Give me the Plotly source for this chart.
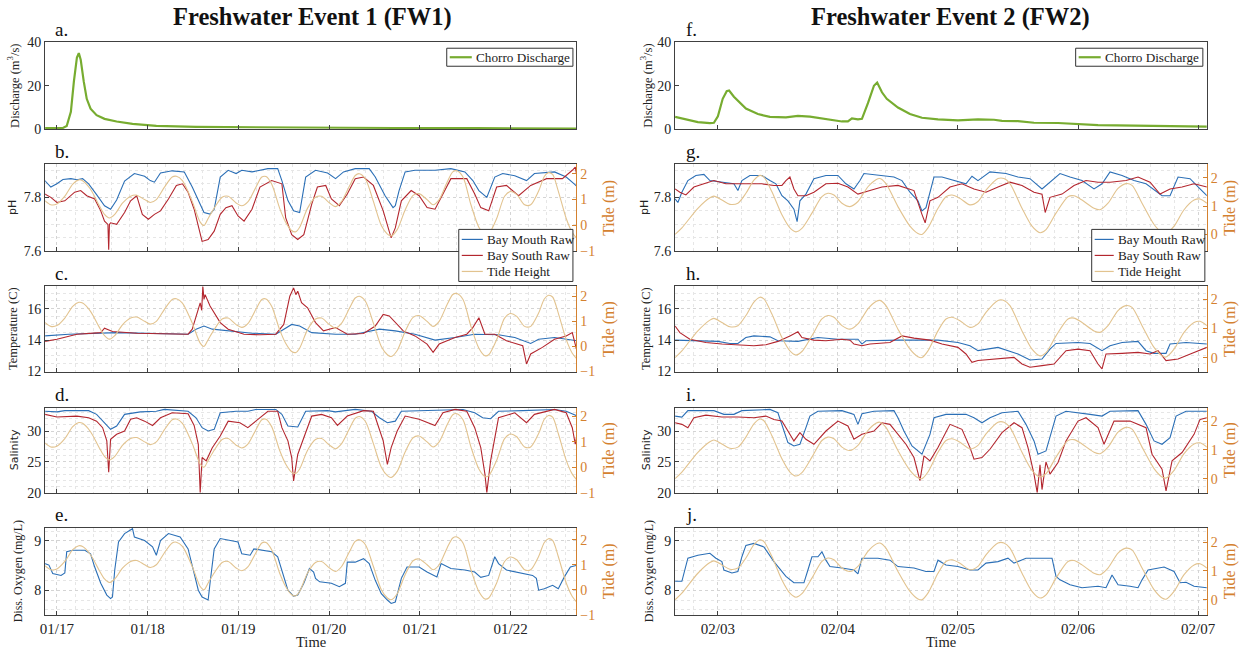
import plotly.graph_objects as go
import pandas as pd

# ---------------- DATA (time in hours from 00:00 of the first labelled day) ----------------
FW1_BASE = "2019-01-17"
FW2_BASE = "2019-02-03"

fw1_discharge = [(-3.2, 0.5), (1.6, 0.6), (2.6, 1.5), (3.7, 8), (4.5, 22), (5.3, 33), (5.8, 35),
                 (6.3, 32), (7.1, 22), (7.9, 14), (8.9, 9.5), (10.5, 6.5), (12.6, 4.8), (15.8, 3.6),
                 (20.0, 2.5), (26.3, 1.6), (36.8, 1.1), (57.9, 0.8), (89.5, 0.6), (110.5, 0.5), (137.7, 0.35)]

fw2_discharge = [(-8.56, 5.7), (-6.4, 4.5), (-4.0, 3.3), (-1.6, 2.8), (-0.8, 3.0), (0, 6), (0.96, 14),
                 (1.76, 17.5), (2.24, 17.8), (3.2, 15), (4.0, 13), (5.6, 9.5), (8.0, 7), (10.4, 5.7),
                 (13.6, 5.5), (16.0, 6.2), (18.4, 5.8), (21.6, 4.6), (24.8, 3.6), (26.0, 3.6), (26.8, 5.0),
                 (28.0, 4.6), (28.8, 4.8), (30.0, 12), (31.2, 20), (31.84, 21.5), (32.8, 17), (33.76, 14),
                 (36.0, 10), (38.4, 7.0), (40.8, 5.3), (44.0, 4.6), (48.0, 4.1), (52.0, 4.6), (55.2, 4.4),
                 (56.8, 3.9), (60.0, 3.8), (63.2, 3.0), (68.0, 2.9), (76.0, 1.9), (84.0, 1.6), (92.0, 1.4),
                 (97.76, 1.2)]

fw1_tide = [(-3.2, 0.96), (-1.6, 0.8), (0, 0.83), (2.1, 1.13), (4.2, 1.6), (5.8, 1.76), (6.8, 1.73),
            (8.9, 1.4), (11.1, 0.8), (12.6, 0.43), (13.9, 0.29), (15.3, 0.43), (17.4, 0.87), (19.5, 1.13),
            (21.1, 1.17), (23.2, 1.0), (24.7, 0.89), (26.3, 1.0), (28.4, 1.47), (30.5, 1.87), (31.6, 1.9),
            (33.2, 1.73), (35.8, 0.93), (37.9, 0.13), (38.9, 0.0), (40.0, 0.27), (41.6, 0.67), (43.7, 1.09),
            (45.3, 1.13), (47.4, 0.87), (48.9, 0.76), (50.5, 0.91), (52.6, 1.47), (54.2, 1.87), (55.3, 1.89),
            (56.8, 1.6), (58.9, 0.67), (60.5, 0.13), (62.1, -0.2), (63.2, -0.24), (64.2, -0.07), (66.3, 0.67),
            (68.4, 1.09), (70.0, 1.13), (72.1, 0.87), (73.7, 0.73), (75.3, 0.93), (77.4, 1.53), (78.9, 1.93),
            (80.0, 2.0), (81.6, 1.8), (83.7, 0.93), (85.8, 0.0), (87.4, -0.33), (88.4, -0.4), (90.0, -0.16),
            (92.1, 0.6), (94.2, 1.16), (95.8, 1.23), (97.9, 1.0), (99.5, 0.8), (101.1, 1.0), (103.2, 1.67),
            (104.7, 2.07), (105.8, 2.11), (107.4, 1.87), (109.5, 0.8), (111.6, -0.07), (113.2, -0.37),
            (114.2, -0.33), (116.3, 0.27), (118.4, 1.13), (120.0, 1.31), (121.6, 1.2), (123.7, 0.8),
            (125.3, 0.8), (127.4, 1.33), (128.9, 1.89), (130.0, 2.04), (131.1, 1.97), (132.6, 1.33),
            (134.7, 0.27), (136.3, -0.27), (137.7, -0.53)]

fw2_tide = [(-8.56, 0.0), (-7.2, 0.23), (-4.0, 0.92), (-1.6, 1.29), (-0.8, 1.35), (0.8, 1.21), (2.4, 1.06),
            (4.0, 1.1), (5.6, 1.45), (7.2, 1.91), (8.4, 2.08), (9.2, 2.02), (10.8, 1.5), (12.8, 0.69),
            (14.4, 0.23), (15.6, 0.09), (16.8, 0.21), (18.8, 0.75), (20.8, 1.33), (22.0, 1.45), (23.2, 1.39),
            (24.8, 1.1), (26.4, 0.98), (28.0, 1.16), (30.0, 1.68), (31.6, 1.93), (32.4, 1.97), (33.6, 1.79),
            (36.0, 0.98), (38.4, 0.29), (40.0, 0.03), (40.8, 0.0), (42.0, 0.23), (44.0, 0.92), (45.6, 1.33),
            (46.8, 1.39), (48.4, 1.27), (50.4, 1.04), (52.0, 1.16), (53.6, 1.56), (56.0, 1.97), (57.2, 1.97),
            (58.4, 1.79), (60.8, 0.92), (62.8, 0.29), (64.4, 0.06), (65.6, 0.17), (67.6, 0.75), (70.0, 1.33),
            (71.2, 1.36), (72.8, 1.21), (75.2, 0.92), (76.4, 0.87), (78.0, 1.1), (80.0, 1.62), (81.6, 1.79),
            (82.8, 1.73), (84.8, 1.1), (87.2, 0.35), (88.8, 0.06), (89.6, 0.02), (91.2, 0.29), (93.2, 0.87),
            (95.2, 1.21), (96.4, 1.25), (97.76, 1.1)]

fw1_ph_mouth = [(-3.2, 7.862), (-1.6, 7.838), (0, 7.85), (1.6, 7.866), (3.7, 7.869), (5.3, 7.865), (6.8, 7.869),
                (8.4, 7.85), (10.5, 7.81), (12.6, 7.769), (14.2, 7.756), (15.8, 7.79), (17.9, 7.86), (20.5, 7.888),
                (23.2, 7.878), (24.7, 7.862), (25.8, 7.856), (27.4, 7.89), (30.5, 7.898), (33.7, 7.894),
                (35.8, 7.838), (37.4, 7.79), (38.9, 7.744), (40.5, 7.738), (41.6, 7.756), (43.2, 7.875),
                (45.3, 7.9), (47.4, 7.888), (48.9, 7.9), (51.6, 7.894), (55.8, 7.906), (58.4, 7.906),
                (59.5, 7.862), (61.1, 7.788), (62.6, 7.75), (64.2, 7.744), (65.8, 7.875), (68.4, 7.9),
                (71.6, 7.89), (73.7, 7.869), (75.8, 7.894), (78.9, 7.906), (82.6, 7.906), (84.2, 7.875),
                (86.8, 7.806), (88.9, 7.762), (89.5, 7.769), (90.5, 7.825), (92.1, 7.894), (94.7, 7.9),
                (100.0, 7.9), (104.2, 7.906), (107.9, 7.894), (110.0, 7.862), (111.6, 7.825), (113.7, 7.8),
                (115.8, 7.875), (117.9, 7.888), (121.1, 7.88), (124.2, 7.862), (126.3, 7.888), (131.6, 7.894),
                (134.7, 7.875), (136.8, 7.85), (137.7, 7.838)]

fw1_ph_south = [(-3.2, 7.812), (-1.6, 7.8), (0, 7.781), (2.1, 7.787), (4.7, 7.819), (6.3, 7.825), (7.9, 7.806),
                (10.0, 7.794), (11.6, 7.75), (12.6, 7.712), (13.5, 7.70), (13.7, 7.606), (13.9, 7.70),
                (14.2, 7.706), (15.8, 7.7), (17.9, 7.744), (19.5, 7.787), (21.1, 7.806), (22.6, 7.737),
                (24.2, 7.719), (25.8, 7.737), (27.4, 7.75), (29.5, 7.794), (31.6, 7.844), (33.2, 7.85),
                (34.7, 7.819), (36.3, 7.756), (37.4, 7.694), (38.4, 7.637), (40.0, 7.644), (41.6, 7.675),
                (43.2, 7.737), (44.7, 7.762), (46.3, 7.769), (47.9, 7.731), (49.5, 7.712), (51.6, 7.756),
                (53.7, 7.838), (56.8, 7.862), (59.5, 7.85), (60.5, 7.725), (62.1, 7.662), (63.7, 7.644),
                (65.3, 7.662), (67.4, 7.775), (68.9, 7.838), (71.1, 7.844), (72.6, 7.794), (74.7, 7.769),
                (76.8, 7.812), (78.9, 7.869), (81.1, 7.875), (83.7, 7.844), (86.3, 7.75), (88.4, 7.65),
                (89.5, 7.687), (91.1, 7.787), (93.7, 7.825), (95.8, 7.806), (97.9, 7.762), (100.0, 7.756),
                (102.1, 7.812), (104.2, 7.869), (108.4, 7.869), (110.5, 7.812), (112.1, 7.762), (114.2, 7.75),
                (116.3, 7.838), (118.9, 7.844), (122.1, 7.806), (125.3, 7.844), (129.5, 7.869), (133.7, 7.869),
                (136.3, 7.9), (137.1, 7.912), (137.7, 7.862)]

fw1_temp_mouth = [(-3.2, 14.27), (3.2, 14.38), (15.8, 14.48), (34.7, 14.38), (36.8, 14.7), (38.9, 14.9),
                  (41.1, 14.7), (45.3, 14.59), (51.6, 14.44), (57.9, 14.38), (62.1, 15.0), (64.2, 14.9),
                  (67.4, 14.48), (73.7, 14.38), (78.9, 14.38), (85.3, 14.7), (89.5, 14.59), (94.7, 14.38),
                  (100.0, 14.0), (105.3, 14.17), (110.5, 14.38), (116.8, 14.34), (121.1, 14.17),
                  (125.3, 13.79), (127.4, 14.06), (131.6, 14.17), (137.7, 13.96)]

fw1_temp_south = [(-3.2, 13.92), (0, 14.06), (5.3, 14.38), (11.6, 14.48), (12.6, 14.76), (14.7, 14.55),
                  (21.1, 14.44), (28.4, 14.42), (34.7, 14.38), (35.8, 14.7), (36.8, 15.54), (37.9, 16.38),
                  (38.3, 15.9), (38.6, 17.43), (38.9, 16.6), (39.2, 16.9), (40.5, 16.17), (43.2, 15.12),
                  (45.3, 14.7), (49.5, 14.38), (53.7, 14.34), (57.9, 14.38), (60.0, 15.0), (61.6, 16.8),
                  (62.6, 17.33), (63.2, 16.9), (63.7, 17.12), (64.7, 16.38), (66.3, 16.06), (68.4, 15.12),
                  (70.5, 14.59), (73.7, 14.8), (76.8, 14.38), (81.1, 14.42), (84.2, 14.9), (86.3, 15.64),
                  (87.9, 15.54), (91.6, 14.59), (94.7, 14.27), (97.9, 13.75), (99.5, 13.22), (101.1, 13.75),
                  (105.3, 14.17), (108.4, 14.38), (110.0, 14.8), (111.6, 15.43), (113.2, 14.38), (115.8, 14.38),
                  (118.9, 13.96), (123.2, 13.64), (124.2, 12.48), (125.3, 13.12), (128.4, 13.54), (131.6, 14.06),
                  (134.7, 14.27), (136.3, 14.48), (137.4, 13.43), (137.7, 13.75)]

fw1_sal_mouth = [(-3.2, 33.2), (0, 33.1), (2.1, 33.3), (8.4, 33.3), (10.5, 32.7), (12.6, 31.34), (14.2, 30.27),
                 (15.8, 30.8), (17.9, 32.7), (22.1, 33.1), (26.3, 33.2), (28.4, 33.5), (34.7, 33.2),
                 (36.8, 32.15), (38.4, 30.54), (40.0, 30.0), (41.6, 30.27), (43.2, 32.96), (47.4, 33.2),
                 (50.5, 33.2), (52.6, 33.5), (57.9, 33.5), (59.5, 32.7), (61.1, 30.8), (63.7, 30.65),
                 (65.8, 33.2), (71.6, 33.3), (73.7, 33.1), (78.9, 33.5), (83.2, 33.2), (85.3, 32.15),
                 (87.4, 31.34), (89.5, 31.6), (91.1, 33.2), (100.0, 33.4), (107.4, 33.5), (110.5, 32.96),
                 (112.6, 32.15), (114.7, 31.99), (116.8, 33.2), (123.2, 33.3), (131.6, 33.5), (134.7, 33.2),
                 (137.7, 32.4)]

fw1_sal_south = [(-3.2, 32.7), (0, 32.26), (5.3, 32.42), (8.4, 32.15), (10.5, 31.6), (12.1, 30.54),
                 (13.2, 28.4), (13.7, 23.3), (14.2, 28.66), (15.8, 29.46), (17.9, 30.0), (19.5, 31.9),
                 (21.1, 32.15), (23.2, 31.6), (25.3, 30.9), (27.4, 32.15), (30.5, 32.96), (34.7, 32.8),
                 (36.3, 30.9), (37.4, 27.85), (37.9, 20.0), (38.4, 25.7), (39.5, 25.16), (41.1, 27.3),
                 (43.2, 29.2), (45.3, 31.6), (48.4, 31.34), (50.5, 30.54), (52.6, 31.6), (55.8, 33.2),
                 (58.4, 33.2), (59.5, 30.54), (61.1, 28.4), (62.1, 25.7), (62.6, 21.9), (63.7, 26.2),
                 (65.3, 28.9), (67.4, 32.42), (70.0, 32.7), (72.6, 32.15), (74.2, 30.9), (76.8, 32.42),
                 (81.1, 33.3), (83.7, 33.2), (84.7, 31.34), (86.3, 28.4), (87.4, 24.6), (88.4, 27.3),
                 (90.0, 30.0), (92.1, 32.42), (95.8, 31.9), (97.9, 31.34), (100.0, 30.9), (102.1, 32.96),
                 (105.3, 33.5), (108.4, 33.2), (110.5, 30.54), (112.1, 27.3), (113.2, 23.0), (113.7, 20.0),
                 (114.7, 25.16), (116.8, 32.15), (121.1, 32.96), (124.2, 31.34), (126.3, 32.7), (131.6, 33.5),
                 (134.7, 32.96), (136.3, 30.54), (137.1, 27.85), (137.7, 30.0)]

fw1_do_mouth = [(-3.2, 8.54), (-2.1, 8.51), (-1.1, 8.34), (1.1, 8.3), (2.1, 8.35), (2.6, 8.78), (4.2, 8.81),
                (7.4, 8.81), (8.9, 8.74), (10.0, 8.47), (11.6, 8.14), (13.2, 7.9), (14.2, 7.83), (14.7, 7.86),
                (15.3, 8.41), (16.3, 8.98), (17.9, 9.15), (19.5, 9.22), (20.0, 9.25), (20.5, 9.08), (23.2, 9.01),
                (25.3, 8.88), (26.3, 8.71), (27.4, 9.01), (29.5, 9.15), (32.6, 9.08), (34.7, 8.84), (36.3, 8.34),
                (37.4, 8.0), (38.4, 7.86), (40.0, 7.8), (40.5, 8.14), (41.6, 8.84), (43.2, 9.05), (46.3, 9.01),
                (47.9, 8.98), (48.9, 8.74), (51.1, 8.71), (52.1, 8.84), (54.2, 8.81), (56.8, 8.78), (58.4, 8.68),
                (60.0, 8.3), (61.1, 8.0), (62.6, 7.88), (63.7, 7.9), (65.3, 8.14), (66.8, 8.44), (67.9, 8.37),
                (68.4, 8.24), (69.5, 8.17), (72.6, 8.14), (74.7, 8.07), (76.3, 8.14), (76.8, 8.57), (78.9, 8.57),
                (81.1, 8.64), (82.6, 8.54), (84.2, 8.2), (85.8, 7.93), (87.4, 7.8), (88.4, 7.73), (89.5, 7.76),
                (91.1, 8.24), (92.6, 8.47), (95.8, 8.47), (97.9, 8.37), (100.5, 8.27), (101.6, 8.54),
                (104.2, 8.44), (107.9, 8.41), (110.5, 8.37), (112.1, 8.26), (114.2, 8.3), (115.8, 8.68),
                (116.8, 8.54), (118.9, 8.41), (123.2, 8.34), (125.8, 8.3), (126.8, 8.24), (127.4, 8.0),
                (128.9, 8.03), (131.1, 8.1), (132.6, 8.03), (134.2, 8.27), (135.8, 8.47), (137.7, 8.51)]

fw2_ph_mouth = [(-8.56, 7.794), (-8.0, 7.781), (-7.2, 7.819), (-6.0, 7.862), (-4.4, 7.881), (-2.8, 7.885),
                (-1.6, 7.862), (0.8, 7.856), (3.2, 7.85), (4.0, 7.825), (4.8, 7.862), (6.4, 7.881), (8.8, 7.881),
                (10.4, 7.862), (11.6, 7.85), (12.8, 7.806), (14.0, 7.787), (15.2, 7.756), (15.84, 7.71),
                (16.4, 7.787), (17.6, 7.812), (19.2, 7.869), (21.6, 7.881), (24.0, 7.881), (25.6, 7.85),
                (27.2, 7.831), (28.4, 7.862), (29.2, 7.888), (32.0, 7.881), (35.2, 7.875), (36.8, 7.862),
                (38.4, 7.819), (40.0, 7.787), (40.8, 7.75), (41.6, 7.762), (43.2, 7.875), (44.8, 7.875),
                (47.2, 7.862), (49.6, 7.85), (50.8, 7.878), (52.0, 7.862), (54.4, 7.894), (57.6, 7.888),
                (60.0, 7.875), (62.4, 7.869), (64.8, 7.831), (66.4, 7.856), (68.4, 7.888), (70.4, 7.875),
                (72.8, 7.862), (75.2, 7.831), (76.8, 7.85), (78.4, 7.894), (80.8, 7.881), (83.2, 7.862),
                (85.6, 7.85), (88.8, 7.806), (90.4, 7.806), (92.0, 7.875), (94.4, 7.869), (96.4, 7.831),
                (97.76, 7.806)]

fw2_ph_south = [(-8.56, 7.831), (-7.6, 7.819), (-6.4, 7.809), (-4.8, 7.838), (-2.8, 7.85), (-0.8, 7.862),
                (1.6, 7.85), (4.0, 7.85), (6.4, 7.85), (8.8, 7.85), (11.2, 7.844), (12.8, 7.844), (13.6, 7.862),
                (14.4, 7.875), (15.2, 7.831), (16.0, 7.806), (17.6, 7.806), (19.2, 7.819), (21.6, 7.85),
                (24.0, 7.852), (26.0, 7.838), (28.0, 7.812), (30.4, 7.825), (32.8, 7.838), (36.0, 7.844),
                (39.2, 7.825), (40.8, 7.737), (41.44, 7.706), (42.4, 7.787), (44.0, 7.8), (46.4, 7.838),
                (48.8, 7.85), (51.2, 7.831), (53.6, 7.819), (56.0, 7.838), (58.4, 7.856), (60.8, 7.844),
                (63.2, 7.819), (64.8, 7.812), (65.44, 7.744), (66.4, 7.8), (68.8, 7.812), (71.2, 7.844),
                (73.6, 7.862), (76.0, 7.856), (78.4, 7.856), (81.6, 7.862), (84.0, 7.875), (86.4, 7.856),
                (88.4, 7.812), (90.4, 7.831), (92.8, 7.838), (95.2, 7.85), (97.76, 7.838)]

fw2_temp_mouth = [(-8.56, 14.0), (-4.0, 13.96), (0, 13.92), (2.4, 13.79), (4.0, 13.79), (5.6, 14.17),
                  (7.2, 14.27), (10.4, 14.21), (12.0, 13.96), (16.0, 13.92), (20.0, 14.17), (24.0, 14.06),
                  (28.0, 14.06), (28.8, 13.75), (29.6, 13.96), (36.0, 14.0), (40.8, 14.0), (44.0, 14.0),
                  (48.0, 13.85), (50.4, 13.64), (52.0, 13.33), (53.6, 13.43), (56.0, 13.54), (60.0, 13.12),
                  (62.4, 12.74), (64.8, 12.8), (66.4, 13.43), (67.6, 13.79), (72.0, 13.85), (74.4, 13.79),
                  (76.8, 13.33), (78.4, 13.64), (80.8, 13.85), (84.0, 13.92), (85.6, 13.33), (87.2, 13.16),
                  (89.6, 13.16), (90.4, 13.75), (93.6, 13.85), (97.76, 13.75)]

fw2_temp_south = [(-8.56, 14.9), (-7.6, 14.48), (-5.6, 14.06), (-2.4, 13.85), (0.8, 13.75), (4.0, 13.71),
                  (7.2, 13.64), (9.6, 13.71), (12.0, 13.92), (14.4, 14.27), (16.0, 14.53), (16.8, 14.17),
                  (19.2, 14.0), (21.6, 13.96), (24.8, 14.06), (26.4, 14.0), (27.2, 13.75), (28.8, 13.64),
                  (30.4, 13.75), (34.4, 13.85), (36.8, 14.27), (39.2, 14.13), (42.4, 14.0), (44.8, 13.75),
                  (48.0, 13.54), (49.6, 13.12), (50.8, 12.59), (52.0, 12.7), (55.2, 12.8), (59.2, 12.9),
                  (60.8, 12.48), (62.4, 12.27), (64.8, 12.38), (67.2, 12.48), (69.6, 13.33), (72.0, 13.43),
                  (74.4, 13.33), (76.0, 12.48), (76.8, 12.17), (77.6, 13.12), (80.8, 13.16), (84.0, 13.22),
                  (86.4, 13.12), (88.0, 13.33), (89.6, 12.7), (92.0, 12.8), (95.2, 13.22), (97.76, 13.54)]

fw2_sal_mouth = [(-8.56, 32.42), (-7.2, 32.26), (-6.0, 33.3), (-0.8, 33.3), (1.2, 32.7), (3.2, 32.7),
                 (4.8, 33.3), (10.4, 33.5), (12.0, 32.96), (12.8, 31.08), (14.0, 28.12), (15.2, 27.58),
                 (16.4, 27.85), (17.6, 30.54), (18.4, 32.42), (20.0, 33.2), (24.8, 33.3), (27.2, 32.7),
                 (28.0, 31.08), (28.8, 32.8), (31.2, 33.2), (35.2, 33.3), (36.0, 32.15), (37.2, 30.0),
                 (38.8, 27.58), (40.8, 26.24), (42.4, 29.46), (43.2, 32.15), (45.6, 32.7), (49.6, 32.7),
                 (51.2, 32.15), (52.8, 31.34), (54.4, 32.15), (56.8, 32.96), (60.0, 33.2), (61.6, 31.08),
                 (63.2, 28.39), (64.0, 26.24), (65.6, 26.77), (67.6, 32.42), (69.6, 33.2), (74.4, 32.7),
                 (76.8, 32.42), (78.4, 33.2), (84.0, 33.3), (85.6, 31.08), (87.2, 28.39), (88.8, 27.85),
                 (90.4, 28.92), (91.6, 32.42), (93.6, 33.2), (97.76, 33.2)]

fw2_sal_south = [(-8.56, 31.34), (-7.2, 31.08), (-6.0, 30.54), (-4.8, 32.15), (-2.4, 32.58), (0.8, 32.26),
                 (4.0, 32.26), (7.2, 32.15), (9.6, 32.42), (11.2, 31.88), (12.8, 31.61), (14.4, 29.46),
                 (15.2, 28.39), (16.4, 29.73), (17.6, 28.66), (19.2, 27.85), (21.6, 30.0), (24.0, 31.61),
                 (26.0, 30.81), (27.2, 28.66), (28.8, 29.46), (31.2, 30.0), (32.8, 31.34), (34.4, 31.08),
                 (36.0, 29.46), (37.6, 27.85), (39.2, 25.7), (40.4, 21.94), (41.2, 25.97), (42.4, 25.16),
                 (44.0, 27.31), (46.4, 31.08), (48.8, 30.27), (50.4, 27.31), (51.2, 25.43), (52.8, 25.7),
                 (54.4, 27.04), (56.8, 29.73), (59.2, 31.34), (60.8, 30.54), (62.0, 27.31), (63.2, 23.0),
                 (63.84, 20.0), (64.4, 24.5), (64.8, 20.5), (65.6, 25.0), (66.4, 23.0), (68.0, 24.89),
                 (69.6, 28.39), (72.0, 31.61), (73.6, 32.15), (76.0, 30.54), (77.2, 27.85), (79.2, 31.61),
                 (82.4, 31.61), (85.6, 30.54), (86.8, 26.24), (88.8, 23.82), (89.6, 20.3), (90.8, 25.16),
                 (92.8, 26.51), (95.2, 29.46), (96.4, 31.88), (97.76, 32.15)]

fw2_do_mouth = [(-8.56, 8.18), (-7.2, 8.18), (-6.0, 8.65), (-4.0, 8.71), (-1.6, 8.75), (-0.4, 8.65), (0.8, 8.58),
                (1.2, 8.41), (2.8, 8.35), (4.0, 8.38), (4.8, 8.68), (5.6, 8.91), (7.2, 8.95), (9.2, 8.88),
                (11.2, 8.58), (13.6, 8.28), (15.2, 8.15), (17.2, 8.15), (18.0, 8.41), (18.8, 8.68), (20.0, 8.68),
                (20.8, 8.78), (21.6, 8.61), (22.4, 8.48), (24.8, 8.45), (27.2, 8.41), (28.0, 8.33), (28.8, 8.65),
                (32.0, 8.65), (34.4, 8.61), (36.0, 8.48), (39.2, 8.45), (41.6, 8.38), (43.2, 8.38), (44.0, 8.61),
                (45.6, 8.51), (48.0, 8.48), (50.4, 8.41), (52.0, 8.41), (53.6, 8.55), (56.0, 8.58), (58.0, 8.65),
                (59.2, 8.55), (61.6, 8.65), (64.8, 8.65), (66.8, 8.65), (67.6, 8.28), (68.4, 8.21), (70.4, 8.11),
                (72.8, 8.05), (76.0, 8.08), (77.6, 8.05), (78.8, 8.31), (80.0, 8.11), (82.4, 8.08), (84.0, 8.05),
                (84.8, 8.21), (86.0, 8.41), (89.2, 8.47), (91.2, 8.38), (92.4, 8.15), (93.6, 8.16), (95.2, 8.08),
                (97.76, 8.05)]

titles = ["Freshwater Event 1 (FW1)", "Freshwater Event 2 (FW2)"]
panel_letters = [["a.", "b.", "c.", "d.", "e."], ["f.", "g.", "h.", "i.", "j."]]
ylabels = ["Discharge (m<sup>3</sup>/s)", "pH", "Temperature (C)", "Salinity", "Diss. Oxygen (mg/L)"]
series_names = ["Chorro Discharge", "Bay Mouth Raw", "Bay South Raw", "Tide Height"]

# ---------------- STYLE ----------------
W, H = 1243, 655
# The page keeps the browser's default 8px body margin and the capture is scaled
# back to 1243x655, so layout positions (given in target pixels) are mapped here.
OFF = 8
KX, KY = W / (W + 2 * OFF), H / (H + 2 * OFF)
SERIF = "Liberation Serif, Times New Roman, serif"
SANS = "DejaVu Sans, Arial, sans-serif"
C_GREEN = "#77AC30"
C_BLUE = "#2B6FB6"
C_RED = "#B3262E"
C_TIDE = "#E2C38F"
C_ORANGE = "#D4812F"
GRID = "#D4D4D4"
GRID_MINOR = "#E6E6E6"
AXC = "#404040"


def px_x(p):
    return (p / KX - OFF) / W


def px_y(p):
    return 1 - (p / KY - OFF) / H


xdoms = [[px_x(48), px_x(578.5)], [px_x(677), px_x(1208)]]
rows_px = [(43, 130), (165, 252), (287, 372), (408, 493), (528, 615)]
bases = [pd.Timestamp(FW1_BASE), pd.Timestamp(FW2_BASE)]
xranges_h = [(-3.1, 137.4), (-8.56, 97.76)]

yranges = [(0, 40), (7.6, 7.922), (12, 17.42), (20, 33.8), (7.5, 9.27)]
ydticks = [20, 0.2, 2, 5, 1]
yminor = [None, 0.05, 0.5, 1, 0.2]
tide_ranges = [[None, (-1, 2.36), (-1, 2.39), (-1, 2.35), (-1, 2.48)],
               [None, (-0.6, 2.47), (-0.48, 2.45), (-0.49, 2.48), (-0.52, 2.5)]]


def tt(base, hours):
    return [(base + pd.Timedelta(hours=h)).strftime("%Y-%m-%d %H:%M:%S") for h in hours]


def unzip(pairs):
    return [p[0] for p in pairs], [p[1] for p in pairs]


data = {
    0: dict(discharge=fw1_discharge, tide=fw1_tide,
            sensors=[(fw1_ph_mouth, fw1_ph_south), (fw1_temp_mouth, fw1_temp_south),
                     (fw1_sal_mouth, fw1_sal_south), (fw1_do_mouth, None)]),
    1: dict(discharge=fw2_discharge, tide=fw2_tide,
            sensors=[(fw2_ph_mouth, fw2_ph_south), (fw2_temp_mouth, fw2_temp_south),
                     (fw2_sal_mouth, fw2_sal_south), (fw2_do_mouth, None)]),
}

fig = go.Figure()
layout = dict(width=W, height=H, margin=dict(l=0, r=0, t=0, b=0), paper_bgcolor="white",
              plot_bgcolor="white", showlegend=False, font=dict(family=SERIF, color="#222"))
annotations = []
shapes = []


def ax_name(kind, n):
    return kind if n == 1 else f"{kind}{n}"


def ann(text, x, y, size, family=SERIF, color="#222", angle=0, xanchor="center"):
    annotations.append(dict(text=text, xref="paper", yref="paper", x=px_x(x), y=px_y(y),
                            xanchor=xanchor, yanchor="middle", textangle=angle, showarrow=False,
                            font=dict(family=family, size=size, color=color)))


def legend_box(x0, x1, y0, y1, text_dx, entries):
    """Hand-drawn legend box (positions in target pixels): entries = [(name, color, width, y)]."""
    shapes.append(dict(type="rect", xref="paper", yref="paper", x0=px_x(x0), x1=px_x(x1),
                       y0=px_y(y1), y1=px_y(y0), fillcolor="white", line=dict(color="#333", width=1),
                       layer="above"))
    for name, color, width, yy in entries:
        shapes.append(dict(type="line", xref="paper", yref="paper", x0=px_x(x0 + 3), x1=px_x(x0 + text_dx - 2),
                           y0=px_y(yy), y1=px_y(yy), line=dict(color=color, width=width), layer="above"))
        ann(name, x0 + text_dx, yy, 13.2, xanchor="left")


for col in range(2):
    base = bases[col]
    xr = tt(base, list(xranges_h[col]))
    for row in range(5):
        n = col * 5 + row + 1
        top, bot = rows_px[row]
        ydom = [px_y(bot), px_y(top)]
        has_tide = row > 0
        xa = dict(domain=xdoms[col], anchor=ax_name("y", n), type="date", range=xr,
                  tickformat="%m/%d", dtick=86400000, tick0=base.strftime("%Y-%m-%d"),
                  showline=True, linecolor=AXC, linewidth=1, mirror=True,
                  ticks="inside", ticklen=4, tickcolor=AXC, ticklabelstandoff=0,
                  showticklabels=(row == 4), tickfont=dict(family=SERIF, size=15, color="#222"),
                  showgrid=has_tide, gridcolor=GRID, griddash="dot", gridwidth=1,
                  zeroline=False)
        if has_tide:
            xa["minor"] = dict(dtick=17280000, showgrid=True, gridcolor=GRID_MINOR, griddash="dot", ticks="")
        layout["xaxis" if n == 1 else f"xaxis{n}"] = xa

        ya = dict(domain=ydom, anchor=ax_name("x", n), range=list(yranges[row]), dtick=ydticks[row],
                  tick0=0, showline=True, linecolor=AXC, linewidth=1, mirror=(not has_tide),
                  ticks="inside", ticklen=4, tickcolor=AXC,
                  tickfont=dict(family=SERIF, size=14, color="#222"),
                  showgrid=has_tide, gridcolor=GRID, griddash="dot", zeroline=False)
        if yminor[row]:
            ya["minor"] = dict(dtick=yminor[row], showgrid=True, gridcolor=GRID_MINOR, griddash="dot", ticks="")
        layout["yaxis" if n == 1 else f"yaxis{n}"] = ya

        xref = ax_name("x", n)
        yref = ax_name("y", n)
        d = data[col]
        if row == 0:
            hx, hv = unzip(d["discharge"])
            fig.add_trace(go.Scatter(x=tt(base, hx), y=hv, mode="lines", name=series_names[0],
                                     line=dict(color=C_GREEN, width=2.2), xaxis=xref, yaxis=yref))
        else:
            s = 10 + col * 4 + row
            layout[f"yaxis{s}"] = dict(overlaying=yref, side="right", anchor=xref,
                                       range=list(tide_ranges[col][row]), dtick=1, tick0=0,
                                       showline=True, linecolor=C_ORANGE, linewidth=1,
                                       ticks="inside", ticklen=4, tickcolor=C_ORANGE,
                                       tickfont=dict(family=SERIF, size=14, color=C_ORANGE),
                                       showgrid=False, zeroline=False)
            mouth, south = d["sensors"][row - 1]
            mx, mv = unzip(mouth)
            fig.add_trace(go.Scatter(x=tt(base, mx), y=mv, mode="lines", name=series_names[1],
                                     line=dict(color=C_BLUE, width=1.1), xaxis=xref, yaxis=yref))
            if south is not None:
                sx, sv = unzip(south)
                fig.add_trace(go.Scatter(x=tt(base, sx), y=sv, mode="lines", name=series_names[2],
                                         line=dict(color=C_RED, width=1.1), xaxis=xref, yaxis=yref))
            tx, tv = unzip(d["tide"])
            fig.add_trace(go.Scatter(x=tt(base, tx), y=tv, mode="lines", name=series_names[3],
                                     line=dict(color=C_TIDE, width=1.1, shape="spline", smoothing=0.8),
                                     xaxis=xref, yaxis=f"y{s}"))
            ann("Tide (m)", 611 if col == 0 else 1231, (top + bot) / 2, 16, color=C_ORANGE, angle=-90)

        lab_font = SANS if row in (1, 3) else SERIF
        lab_size = 11 if row in (1, 3) else (12 if row == 4 else 12.5)
        lx = [16, 16, 16, 17, 21][row] if col == 0 else [648, 647, 648, 648, 651][row]
        ann(ylabels[row], lx, (top + bot) / 2, lab_size, family=lab_font, angle=-90)
        ann(panel_letters[col][row], 56 if col == 0 else 686, top - 13, 19, color="#111", xanchor="left")

    ann("<b>" + titles[col] + "</b>", 315 if col == 0 else 952, 18, 24.5, color="#111")
    ann("Time", 313 if col == 0 else 943, 642.5, 14.5)

# legends (drawn as boxes with line samples and text)
legend_box(449, 575, 49, 67, 27, [(series_names[0], C_GREEN, 2.2, 58)])
legend_box(1077, 1204, 49, 67, 27, [(series_names[0], C_GREEN, 2.2, 58)])
sens_entries = [(series_names[1], C_BLUE, 1.2, 240), (series_names[2], C_RED, 1.2, 256),
                (series_names[3], C_TIDE, 1.2, 272)]
legend_box(461, 575, 230, 282, 26, sens_entries)
legend_box(1093, 1206, 230, 282, 24, sens_entries)

layout["annotations"] = annotations
layout["shapes"] = shapes

fig.update_layout(**layout)
fig.write_html("out.html")
